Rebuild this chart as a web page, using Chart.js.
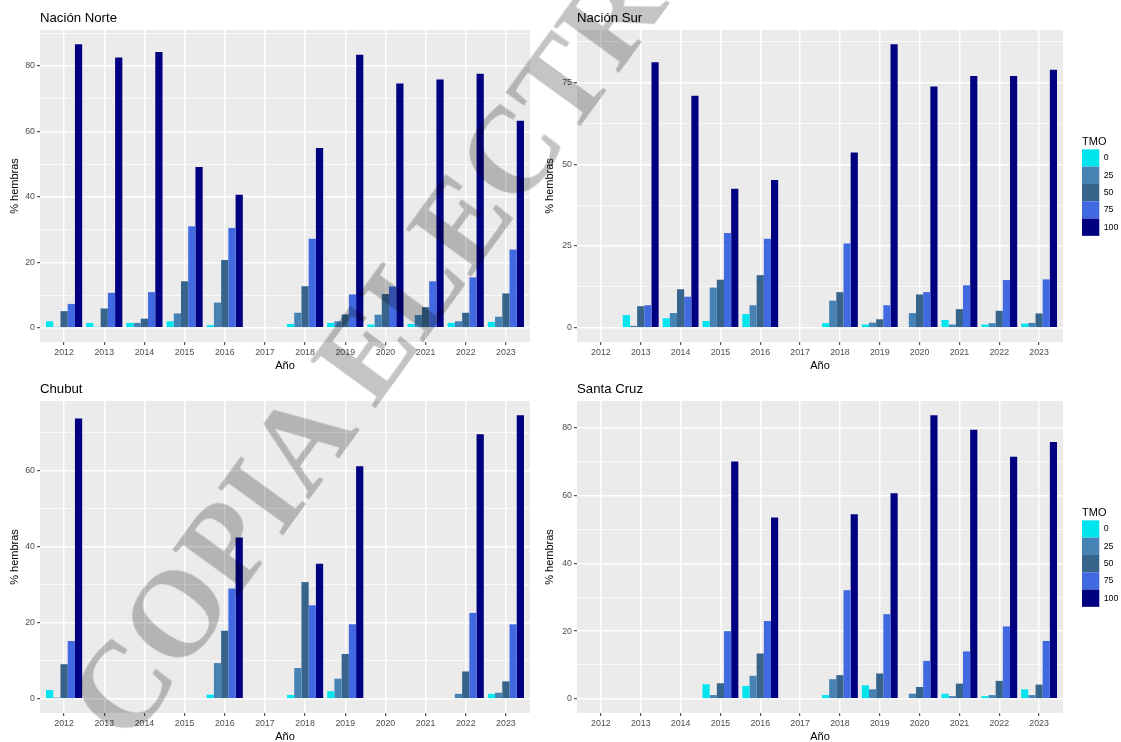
<!DOCTYPE html>
<html>
<head>
<meta charset="utf-8">
<script src="https://cdn.jsdelivr.net/npm/chart.js@4.4.0/dist/chart.umd.min.js"></script>
<style>
  html, body { margin: 0; padding: 0; background: #fff; overflow: hidden; }
  body { width: 1121px; height: 742px; position: relative; }
  .panel { position: absolute; }
  .panel canvas { display: block; }
  #wm {
    position: absolute; left: 96px; top: 662px;
    font: bold 122px/122px "Liberation Serif", "DejaVu Serif", serif;
    color: #C4C4C4;
    mix-blend-mode: multiply;
    white-space: nowrap; pointer-events: none;
    transform-origin: 0 50%; transform: rotate(-54deg);
  }
</style>
</head>
<body>
<div class="panel" style="left:0;top:0"><canvas id="norte" width="540" height="371"></canvas></div>
<div class="panel" style="left:540px;top:0"><canvas id="sur" width="582" height="371"></canvas></div>
<div class="panel" style="left:0;top:371px"><canvas id="chubut" width="540" height="371"></canvas></div>
<div class="panel" style="left:540px;top:371px"><canvas id="santacruz" width="582" height="371"></canvas></div>
<div id="wm">COPIA ELECTRÓNICA</div>

<script>
const years = ['2012', '2013', '2014', '2015', '2016', '2017', '2018', '2019', '2020', '2021', '2022', '2023'];
const tmoLevels = ['0', '25', '50', '75', '100'];
const tmoColors = ['#00E5EE', '#4682B4', '#36648B', '#4169E1', '#000080'];

// % hembras por año, una fila por nivel de TMO (0, 25, 50, 75, 100)
const norteValues = [
  [2.0, 1.5, 1.5, 2.0, 0.8, 0, 1.2, 1.5, 1.0, 1.2, 1.5, 1.8],
  [0.3, 0.3, 1.5, 4.4, 7.7, 0, 4.6, 2.0, 4.0, 3.9, 2.0, 3.4],
  [5.1, 5.9, 2.8, 14.2, 20.7, 0, 12.7, 4.1, 10.3, 6.3, 4.6, 10.5],
  [7.3, 10.7, 10.9, 31.0, 30.5, 0, 27.2, 10.2, 12.6, 14.2, 15.4, 23.9],
  [86.6, 82.5, 84.2, 49.1, 40.6, 0, 54.9, 83.4, 74.6, 75.8, 77.6, 63.2]
];
const surValues = [
  [0, 3.9, 2.9, 2.1, 4.2, 0, 1.4, 1.0, 0, 2.4, 1.0, 1.3],
  [0, 0.6, 4.5, 12.3, 6.9, 0, 8.3, 1.6, 4.5, 1.0, 1.4, 1.5],
  [0, 6.6, 11.8, 14.7, 16.1, 0, 10.9, 2.6, 10.2, 5.7, 5.2, 4.4],
  [0, 6.9, 9.5, 29.0, 27.2, 0, 25.8, 6.9, 10.9, 13.0, 14.6, 14.8],
  [0, 81.2, 70.9, 42.5, 45.2, 0, 53.6, 86.7, 73.8, 77.0, 77.0, 78.9]
];
const chubutValues = [
  [2.3, 0, 0, 0, 1.1, 0, 1.0, 2.0, 0, 0, 0, 1.3],
  [0.3, 0, 0, 0, 9.4, 0, 8.1, 5.3, 0, 0, 1.3, 1.6],
  [9.1, 0, 0, 0, 17.9, 0, 30.7, 11.8, 0, 0, 7.2, 4.6],
  [15.2, 0, 0, 0, 29.0, 0, 24.6, 19.6, 0, 0, 22.6, 19.6],
  [73.7, 0, 0, 0, 42.4, 0, 35.5, 61.2, 0, 0, 69.6, 74.6]
];
const santaCruzValues = [
  [0, 0, 0, 4.3, 3.8, 0, 1.1, 4.0, 0, 1.5, 0.8, 2.8],
  [0, 0, 0, 1.1, 6.8, 0, 5.8, 2.8, 1.5, 0.8, 1.1, 1.1],
  [0, 0, 0, 4.6, 13.4, 0, 7.0, 7.5, 3.5, 4.5, 5.3, 4.2],
  [0, 0, 0, 20.0, 23.0, 0, 32.1, 25.0, 11.2, 14.0, 21.4, 17.1],
  [0, 0, 0, 70.1, 53.6, 0, 54.5, 60.7, 83.8, 79.5, 71.5, 75.9]
];

const norteTicks = [0, 20, 40, 60, 80];
const surTicks = [0, 25, 50, 75];
const chubutTicks = [0, 20, 40, 60];
const santaCruzTicks = [0, 20, 40, 60, 80];

Chart.defaults.font.family = '"Liberation Sans", Arial, sans-serif';

// grey panel behind the bars, like ggplot's theme_grey
const panelBackground = {
  id: 'panelBackground',
  beforeDraw(chart) {
    const { ctx, chartArea: a } = chart;
    ctx.save();
    ctx.fillStyle = '#EBEBEB';
    ctx.fillRect(a.left, a.top, a.right - a.left, a.bottom - a.top);
    ctx.restore();
  }
};

// title aligned with the panel's left edge
const panelTitle = {
  id: 'panelTitle',
  afterDraw(chart, args, opts) {
    const { ctx, chartArea } = chart;
    ctx.save();
    ctx.font = '13.2px "Liberation Sans", Arial, sans-serif';
    ctx.fillStyle = '#000';
    ctx.textBaseline = 'middle';
    ctx.textAlign = 'left';
    ctx.fillText(opts.text, chartArea.left, 18);
    ctx.restore();
  }
};

function makePanel(id, title, values, yTicks, right) {
  const maxVal = Math.max(...values.flat());
  const pad = maxVal * 0.05;
  const lo = -pad, hi = maxVal + pad;
  const step = yTicks[1] - yTicks[0];
  const minor = [];
  for (let v = yTicks[0] - step / 2; v <= yTicks[yTicks.length - 1] + step; v += step) {
    if (v > lo && v < hi) minor.push(v);
  }
  const allTicks = yTicks.concat(minor).sort((a, b) => a - b);
  const isMajor = v => yTicks.includes(v);

  const scales = {
    x: {
      type: 'linear', min: 0.4, max: 12.6, offset: false,
      afterBuildTicks: axis => { axis.ticks = years.map((yr, i) => ({ value: i + 1 })); },
      afterFit: axis => { axis.height = 29; },
      grid: { color: '#FFFFFF', lineWidth: 1.4, offset: false, tickLength: 3, tickColor: '#333333', tickWidth: 1 },
      border: { display: false },
      ticks: {
        callback: v => years[Math.round(v) - 1],
        color: '#4D4D4D', font: { size: 8.8 }, padding: 2,
        maxRotation: 0, autoSkip: false
      },
      title: { display: true, text: 'Año', color: '#000', font: { size: 11, lineHeight: 1 }, padding: { top: 0, bottom: 0 } }
    },
    y: {
      type: 'linear', min: lo, max: hi,
      afterBuildTicks: axis => { axis.ticks = allTicks.map(v => ({ value: v })); },
      afterFit: axis => { axis.width = right ? 37 : 40; },
      grid: {
        color: '#FFFFFF',
        lineWidth: ctx => (ctx.tick && isMajor(ctx.tick.value)) ? 1.4 : 0.7,
        tickLength: 3,
        tickColor: ctx => (ctx.tick && isMajor(ctx.tick.value)) ? '#333333' : 'rgba(0,0,0,0)',
        tickWidth: 1
      },
      border: { display: false },
      ticks: {
        callback: v => isMajor(v) ? String(v) : '',
        color: '#4D4D4D', font: { size: 8.8 }, padding: 2, autoSkip: false
      },
      title: { display: true, text: '% hembras', color: '#000', font: { size: 11, lineHeight: 1.2 }, padding: { top: right ? 3.4 : 8.4, bottom: 0 } }
    }
  };
  if (right) {
    // empty strip between the panel and the legend
    scales.gap = {
      type: 'linear', position: 'right', display: true,
      grid: { display: false }, border: { display: false }, ticks: { display: false },
      afterFit: axis => { axis.width = 19; }
    };
  }

  new Chart(document.getElementById(id), {
    type: 'bar',
    data: {
      datasets: tmoLevels.map((lvl, k) => ({
        label: lvl,
        data: years.map((yr, i) => ({ x: i + 1, y: values[k][i] })),
        backgroundColor: tmoColors[k],
        borderWidth: 0,
        categoryPercentage: 0.9,
        barPercentage: 1.0
      }))
    },
    options: {
      responsive: false,
      animation: false,
      devicePixelRatio: 1,
      layout: { padding: { top: 30, left: 0, right: right ? 0 : 10, bottom: 0 } },
      scales,
      plugins: {
        panelTitle: { text: title },
        tooltip: { enabled: false },
        legend: {
          display: right,
          position: 'right', align: 'center', fullSize: false, maxWidth: 40,
          title: { display: true, text: 'TMO', position: 'start', color: '#000', font: { size: 11, lineHeight: 1.2 }, padding: 0 },
          labels: { boxWidth: 17.3, boxHeight: 17.3, padding: 0, color: '#000', font: { size: 8.8 } }
        }
      }
    },
    plugins: [panelBackground, panelTitle]
  });
}

makePanel('norte', 'Nación Norte', norteValues, norteTicks, false);
makePanel('sur', 'Nación Sur', surValues, surTicks, true);
makePanel('chubut', 'Chubut', chubutValues, chubutTicks, false);
makePanel('santacruz', 'Santa Cruz', santaCruzValues, santaCruzTicks, true);
</script>
</body>
</html>
